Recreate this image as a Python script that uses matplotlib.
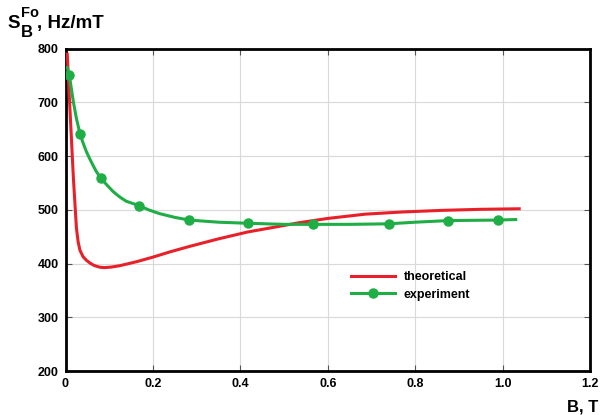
import matplotlib
matplotlib.use("Agg")
import matplotlib.pyplot as plt

plt.rcParams['font.family'] = ['Liberation Sans', 'DejaVu Sans']

# Theoretical curve
theo_B = [0.004, 0.010, 0.018, 0.025, 0.029, 0.033, 0.040, 0.048, 0.056, 0.064, 0.071,
          0.080, 0.090, 0.105, 0.124, 0.145, 0.165, 0.200, 0.240, 0.284, 0.350, 0.418,
          0.480, 0.534, 0.600, 0.686, 0.770, 0.860, 0.950, 1.038]
theo_S = [790, 690, 560, 466, 440, 425, 413, 406, 401, 397, 395,
          393, 392.5, 393.5, 396, 400, 404, 412, 422, 432, 446, 459,
          468, 476, 484, 492, 496, 499, 501, 502]

# Experimental fit curve
fit_B = [0.004, 0.0087, 0.018, 0.025, 0.033, 0.040, 0.048, 0.056, 0.063, 0.070,
         0.081, 0.095, 0.109, 0.124, 0.139, 0.168, 0.190, 0.215, 0.250, 0.283,
         0.350, 0.418, 0.500, 0.566, 0.650, 0.739, 0.800, 0.875, 0.990, 1.030]
fit_S = [765, 751, 701, 670, 642, 625, 608, 594, 583, 572,
         559, 546, 534, 524, 516, 508, 500, 493, 486, 481,
         477, 475, 473, 473, 473, 474, 477, 480, 481, 482]

# Experimental points
exp_B = [0.0087, 0.033, 0.081, 0.168, 0.283, 0.418, 0.566, 0.739, 0.875, 0.990]
exp_S = [751, 642, 559, 508, 481, 475, 473, 473, 480, 481]

x_ticks = [0, 0.2, 0.4, 0.6, 0.8, 1.0, 1.2]
x_labels = ['0', '0.2', '0.4', '0.6', '0.8', '1.0', '1.2']
y_ticks = [200, 300, 400, 500, 600, 700, 800]

red = '#e8202a'
green = '#1fad45'

W, H = 600, 415
fig = plt.figure(figsize=(6, 4.15), dpi=100)
L, R, T, B = 65.5, 590, 48.7, 371
ax = fig.add_axes([L / W, 1 - B / H, (R - L) / W, (B - T) / H])

ax.plot(theo_B, theo_S, color=red, lw=2.2, label='theoretical', zorder=3,
        solid_joinstyle='round')
ax.plot(fit_B, fit_S, color=green, lw=2.2, zorder=3, solid_joinstyle='round')
ax.plot(exp_B, exp_S, 'o', color=green, ms=6.5, zorder=4)
ax.plot([], [], '-o', color=green, lw=2.2, ms=6.5, label='experiment')

ax.set_xlim(0, 1.2)
ax.set_ylim(200, 800)
ax.set_xticks(x_ticks)
ax.set_xticklabels(x_labels)
ax.set_yticks(y_ticks)
ax.grid(True, color='#d9d9d9', lw=0.8, zorder=0)
for s in ax.spines.values():
    s.set_linewidth(2)
ax.tick_params(direction='in', length=4, width=0.8, color='#555555',
               top=True, right=True, labelsize=9, pad=5)
for lbl in ax.get_xticklabels() + ax.get_yticklabels():
    lbl.set_fontweight('bold')

ax.legend(loc='upper left', bbox_to_anchor=((351 - L) / (R - L), (B - 271) / (B - T)),
          frameon=False, handlelength=3.5, handletextpad=0.7, labelspacing=0.45,
          borderpad=0, borderaxespad=0, prop={'weight': 'bold', 'size': 9})

# Title: S_B^Fo, Hz/mT
def ftext(x, y, s, size):
    fig.text(x / W, 1 - y / H, s, fontsize=size, fontweight='bold',
             ha='left', va='baseline')

ftext(7, 28, 'S', 13.5)
ftext(21, 37, 'B', 12)
ftext(21, 17, 'Fo', 10.5)
ftext(37, 28, ', Hz/mT', 13.5)

fig.text(598 / W, 1 - 411 / H, 'B, T', fontsize=12, fontweight='bold',
         ha='right', va='baseline')

fig.savefig('out.png', dpi=100)
